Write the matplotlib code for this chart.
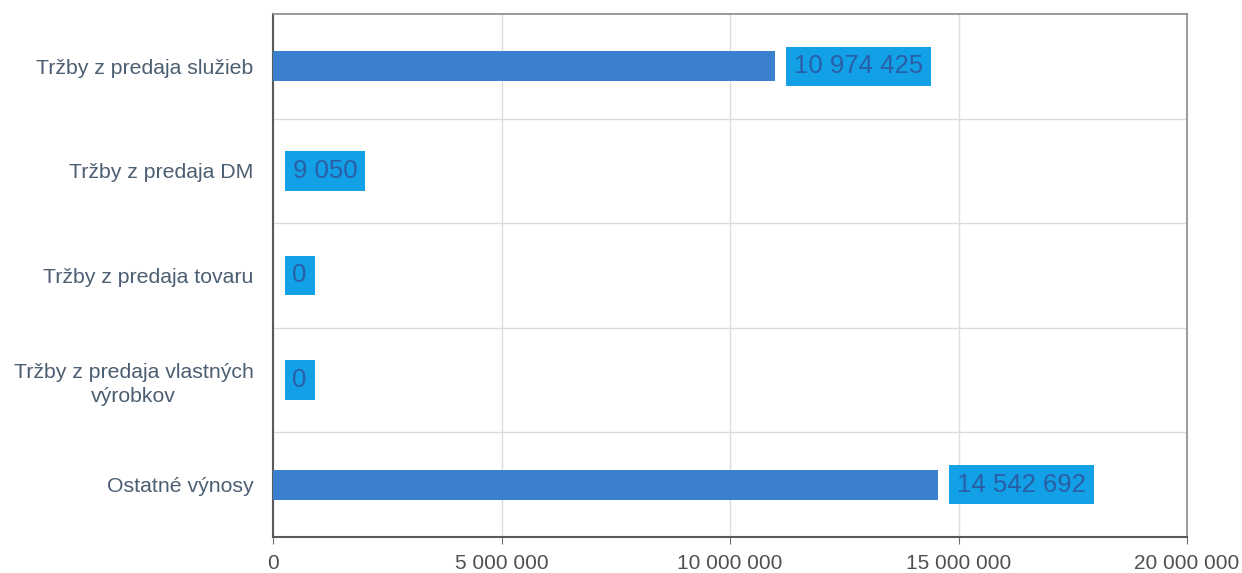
import matplotlib
matplotlib.use("Agg")
import matplotlib.pyplot as plt
from matplotlib.ticker import FixedLocator

categories = ["Tržby z predaja služieb", "Tržby z predaja DM", "Tržby z predaja tovaru",
              "Tržby z predaja vlastných\nvýrobkov", "Ostatné výnosy"]
values = [10974425, 9050, 0, 0, 14542692]
value_labels = ["10 974 425", "9 050", "0", "0", "14 542 692"]
x_ticks = [0, 5000000, 10000000, 15000000, 20000000]
x_tick_labels = ["0", "5 000 000", "10 000 000", "15 000 000", "20 000 000"]

plt.rcParams['font.family'] = ['Liberation Sans', 'DejaVu Sans']

fig = plt.figure(figsize=(12.42, 5.73), dpi=100)
ax = fig.add_axes([273/1242, 1-537/573, (1187-273)/1242, (537-14)/573])

ypos = list(range(len(categories)))
ax.barh(ypos, values, height=0.29, color="#3a7fd0", zorder=3)
ax.set_ylim(len(categories)-0.5, -0.5)
ax.set_xlim(0, 20000000)

for y, v, lab in zip(ypos, values, value_labels):
    ax.annotate(lab, xy=(v, y), xytext=(14, 0), textcoords="offset points",
                ha="left", va="center", fontsize=18.5, color="#2a5ea6",
                bbox=dict(boxstyle="square,pad=0.3", fc="#12a0e6", ec="none"),
                zorder=4)

ax.set_yticks(ypos)
ax.set_yticklabels(categories, fontsize=15.3, color="#4c5e72", ha="right",
                   multialignment="center", linespacing=1.3)
ax.tick_params(axis="y", length=0, pad=14)
ax.yaxis.set_minor_locator(FixedLocator([i + 0.5 for i in range(len(categories)-1)]))
ax.tick_params(axis="y", which="minor", length=0)
ax.grid(axis="y", which="minor", color="#dcdcdc", linewidth=1, zorder=0)

ax.set_xticks(x_ticks)
ax.set_xticklabels(x_tick_labels, fontsize=15, color="#505050")
ax.tick_params(axis="x", length=5, color="#707070", pad=7)
ax.grid(axis="x", which="major", color="#dcdcdc", linewidth=1, zorder=0)

for side in ["left", "bottom"]:
    ax.spines[side].set_color("#5a5a5a")
    ax.spines[side].set_linewidth(1.5)
for side in ["top", "right"]:
    ax.spines[side].set_color("#8a8a8a")
    ax.spines[side].set_linewidth(1.2)

fig.savefig("out.png", dpi=100, facecolor="white")
